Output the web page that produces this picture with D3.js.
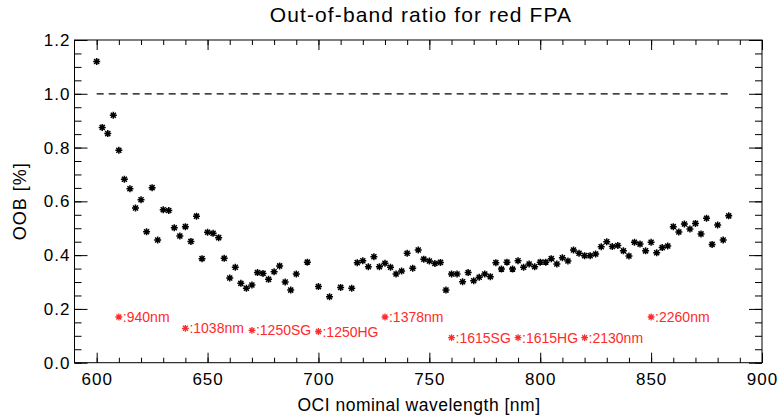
<!DOCTYPE html>
<html>
<head>
<meta charset="utf-8">
<script src="https://cdn.jsdelivr.net/npm/d3@7"></script>
<style>
  body { margin: 0; background: #fff; }
  text { font-family: "Liberation Sans", Arial, sans-serif; }
</style>
</head>
<body>
<div id="chart"></div>
<script>
// OOB ratio per band
const wavelength = [
  600, 602.5, 605, 607.5, 610, 612.5, 615, 617.5, 620, 622.5, 625, 627.5, 630, 632.5, 635, 637.5,
  640, 642.5, 645, 647.5, 650, 652.5, 655, 657.5, 660, 662.5, 665, 667.5, 670, 672.5, 675, 677.5,
  680, 682.5, 685, 687.5, 690, 695, 700, 705, 710, 715, 717.5, 720, 722.5, 725, 727.5, 730, 732.5,
  735, 737.5, 740, 742.5, 745, 747.5, 750, 752.5, 755, 757.5, 760, 762.5, 765, 767.5, 770, 772.5,
  775, 777.5, 780, 782.5, 785, 787.5, 790, 792.5, 795, 797.5, 800, 802.5, 805, 807.5, 810, 812.5,
  815, 817.5, 820, 822.5, 825, 827.5, 830, 832.5, 835, 837.5, 840, 842.5, 845, 847.5, 850, 852.5,
  855, 857.5, 860, 862.5, 865, 867.5, 870, 872.5, 875, 877.5, 880, 882.5, 885
];
const oob = [
  1.12, 0.875, 0.852, 0.92, 0.79, 0.682, 0.647, 0.575, 0.606, 0.487, 0.651, 0.456, 0.569, 0.566, 0.502, 0.471,
  0.506, 0.451, 0.545, 0.387, 0.485, 0.481, 0.465, 0.388, 0.315, 0.355, 0.295, 0.277, 0.289, 0.335, 0.332, 0.310,
  0.338, 0.360, 0.300, 0.270, 0.330, 0.374, 0.283, 0.245, 0.280, 0.277, 0.372, 0.379, 0.357, 0.394, 0.357, 0.370, 0.355,
  0.330, 0.341, 0.407, 0.351, 0.419, 0.385, 0.378, 0.369, 0.373, 0.270, 0.330, 0.330, 0.301, 0.335, 0.305, 0.318,
  0.330, 0.320, 0.372, 0.348, 0.374, 0.348, 0.379, 0.355, 0.367, 0.357, 0.374, 0.374, 0.387, 0.367, 0.390, 0.378,
  0.419, 0.407, 0.398, 0.398, 0.404, 0.431, 0.450, 0.432, 0.436, 0.416, 0.397, 0.448, 0.441, 0.416, 0.448, 0.409,
  0.428, 0.434, 0.506, 0.486, 0.516, 0.497, 0.518, 0.479, 0.537, 0.440, 0.512, 0.456, 0.546
];

// red band annotations
const bandNames = [":940nm", ":1038nm", ":1250SG", ":1250HG", ":1378nm", ":1615SG", ":1615HG", ":2130nm", ":2260nm"];
const bandX = [610, 640, 670, 700, 730, 760, 790, 820, 850];
const bandY = [0.17, 0.128, 0.12, 0.116, 0.17, 0.093, 0.093, 0.093, 0.17];

const xTicks = [600, 650, 700, 750, 800, 850, 900];
const yTicks = [0.0, 0.2, 0.4, 0.6, 0.8, 1.0, 1.2];
const refLine = [600, 885];

const W = 778, H = 416;
const x = d3.scaleLinear().domain([590, 900]).range([74.5, 762]);
const y = d3.scaleLinear().domain([0, 1.2]).range([362.7, 40]);
const red = '#ff2a2a';

const svg = d3.select('#chart').append('svg')
  .attr('width', W)
  .attr('height', H);

// asterisk like the IDL psym=2
function star(r) {
  const d = r * 0.72;
  return `M${-r},0L${r},0M0,${-r}L0,${r}M${-d},${-d}L${d},${d}M${-d},${d}L${d},${-d}`;
}

// Frame
svg.append('rect')
  .attr('x', x.range()[0]).attr('y', y.range()[1])
  .attr('width', x.range()[1] - x.range()[0])
  .attr('height', y.range()[0] - y.range()[1])
  .attr('fill', 'none').attr('stroke', '#000').attr('stroke-width', 1);

const xMinor = d3.range(600, 901, 10);
const yMinor = d3.range(0, 1.2001, 0.05);

function styleAxis(g) {
  g.select('.domain').remove();
  g.selectAll('line').attr('stroke', '#000');
  g.selectAll('text').attr('fill', '#000').attr('font-size', 17).attr('letter-spacing', 1);
}

// X axes (bottom with labels, top ticks only)
svg.append('g')
  .attr('transform', `translate(0,${y(0)})`)
  .call(d3.axisBottom(x).tickValues(xMinor).tickSize(-5).tickFormat(''))
  .call(styleAxis);
svg.append('g')
  .attr('transform', `translate(0,${y(0)})`)
  .call(d3.axisBottom(x).tickValues(xTicks).tickSize(-10).tickPadding(10).tickFormat(d3.format('d')))
  .call(styleAxis);
svg.append('g')
  .attr('transform', `translate(0,${y(1.2)})`)
  .call(d3.axisTop(x).tickValues(xMinor).tickSize(-5).tickFormat(''))
  .call(styleAxis);
svg.append('g')
  .attr('transform', `translate(0,${y(1.2)})`)
  .call(d3.axisTop(x).tickValues(xTicks).tickSize(-10).tickFormat(''))
  .call(styleAxis);

// Y axes (left with labels, right ticks only)
svg.append('g')
  .attr('transform', `translate(${x(590)},0)`)
  .call(d3.axisLeft(y).tickValues(yMinor).tickSize(-7).tickFormat(''))
  .call(styleAxis);
svg.append('g')
  .attr('transform', `translate(${x(590)},0)`)
  .call(d3.axisLeft(y).tickValues(yTicks).tickSize(-13).tickPadding(4).tickFormat(d3.format('.1f')))
  .call(styleAxis);
svg.append('g')
  .attr('transform', `translate(${x(900)},0)`)
  .call(d3.axisRight(y).tickValues(yMinor).tickSize(-7).tickFormat(''))
  .call(styleAxis);
svg.append('g')
  .attr('transform', `translate(${x(900)},0)`)
  .call(d3.axisRight(y).tickValues(yTicks).tickSize(-13).tickFormat(''))
  .call(styleAxis);

// Dashed reference at 1.0
svg.append('line')
  .attr('x1', x(refLine[0])).attr('x2', x(refLine[1]))
  .attr('y1', y(1.0)).attr('y2', y(1.0))
  .attr('stroke', '#000').attr('stroke-width', 1.2)
  .attr('stroke-dasharray', '7,5');

// Data points
svg.append('g')
  .selectAll('path')
  .data(wavelength.map((w, i) => ({ w, v: oob[i] })))
  .enter().append('path')
  .attr('transform', d => `translate(${x(d.w)},${y(d.v)})`)
  .attr('d', star(3.5))
  .attr('stroke', '#000')
  .attr('stroke-width', 1.5)
  .attr('fill', 'none');

// Band labels
const bands = svg.append('g')
  .selectAll('g')
  .data(bandNames.map((n, i) => ({ n, bx: bandX[i], by: bandY[i] })))
  .enter().append('g')
  .attr('transform', d => `translate(${x(d.bx)},${y(d.by)})`);
bands.append('path')
  .attr('d', star(3.4))
  .attr('stroke', red).attr('stroke-width', 1.3).attr('fill', 'none');
bands.append('text')
  .attr('x', 4)
  .attr('dy', '0.36em')
  .attr('fill', red)
  .attr('font-size', 14)
  .text(d => d.n);

// Titles
svg.append('text')
  .attr('x', 421)
  .attr('y', 22)
  .attr('text-anchor', 'middle')
  .attr('font-size', 21)
  .attr('letter-spacing', 1.1)
  .text('Out-of-band ratio for red FPA');

svg.append('text')
  .attr('x', 419)
  .attr('y', 411)
  .attr('text-anchor', 'middle')
  .attr('font-size', 17.5)
  .attr('letter-spacing', 0.5)
  .text('OCI nominal wavelength [nm]');

svg.append('text')
  .attr('transform', `translate(26,${(y.range()[0] + y.range()[1]) / 2}) rotate(-90)`)
  .attr('text-anchor', 'middle')
  .attr('font-size', 18)
  .attr('letter-spacing', 1)
  .text('OOB [%]');
</script>
</body>
</html>
